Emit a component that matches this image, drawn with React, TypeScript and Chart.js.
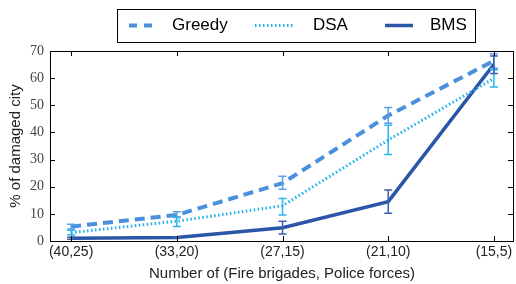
import React, { useEffect, useRef } from 'react';
import { Chart, registerables } from 'chart.js';
Chart.register(...registerables);

const categories = ['(40,25)', '(33,20)', '(27,15)', '(21,10)', '(15,5)'];
const seriesNames = ['Greedy', 'DSA', 'BMS'];
const greedy = [5.3, 9.6, 21.3, 46.2, 66.4];
const greedyLow = [4.4, 8.8, 19.1, 43.4, 63.6];
const greedyHigh = [6.2, 10.8, 23.9, 49.2, 69.0];
const dsa = [3.1, 7.3, 13.0, 37.2, 59.9];
const dsaLow = [2.2, 5.3, 9.6, 31.9, 56.7];
const dsaHigh = [4.0, 8.7, 15.7, 42.6, 63.1];
const bms = [1.0, 1.3, 4.9, 14.5, 65.1];
const bmsLow = [0.6, 1.0, 2.6, 10.2, 61.7];
const bmsHigh = [1.4, 1.6, 7.3, 18.8, 68.2];
const yTicks = [0, 10, 20, 30, 40, 50, 60, 70];

const colors = ['#4a90dc', '#1fb0ec', '#2a56a8'];
const errColors = ['#5c9fe2', '#2ab4ec', '#3a62ae'];
const dashes = [[10, 6], [1.5, 2.5], []];
const widths = [4, 3, 3.5];

const decorPlugin = {
  id: 'decor',
  afterDatasetsDraw(chart: any) {
    const ctx = chart.ctx;
    const xs = chart.scales.x;
    const ys = chart.scales.y;
    const lows = [greedyLow, dsaLow, bmsLow];
    const highs = [greedyHigh, dsaHigh, bmsHigh];
    ctx.save();
    lows.forEach((low, d) => {
      ctx.strokeStyle = errColors[d];
      ctx.lineWidth = 1.5;
      ctx.setLineDash([]);
      low.forEach((lo, i) => {
        const x = xs.getPixelForValue(i);
        const y1 = ys.getPixelForValue(lo);
        const y2 = ys.getPixelForValue(highs[d][i]);
        ctx.beginPath();
        ctx.moveTo(x, y1); ctx.lineTo(x, y2);
        ctx.moveTo(x - 4, y1); ctx.lineTo(x + 4, y1);
        ctx.moveTo(x - 4, y2); ctx.lineTo(x + 4, y2);
        ctx.stroke();
      });
    });
    ctx.restore();
  },
  afterDraw(chart: any) {
    const ctx = chart.ctx;
    const a = chart.chartArea;
    const xs = chart.scales.x;
    const ys = chart.scales.y;
    ctx.save();
    ctx.strokeStyle = '#000';
    ctx.lineWidth = 1;
    ctx.setLineDash([]);
    ctx.strokeRect(Math.round(a.left) + 0.5, Math.round(a.top) + 0.5, Math.round(a.right - a.left) - 1, Math.round(a.bottom - a.top));
    ctx.beginPath();
    categories.forEach((_, i) => {
      const x = Math.round(xs.getPixelForValue(i)) + 0.5;
      ctx.moveTo(x, a.bottom); ctx.lineTo(x, a.bottom - 5);
      ctx.moveTo(x, a.top); ctx.lineTo(x, a.top + 5);
    });
    yTicks.forEach((v) => {
      const y = Math.round(ys.getPixelForValue(v)) + 0.5;
      ctx.moveTo(a.left, y); ctx.lineTo(a.left + 5, y);
      ctx.moveTo(a.right - 1, y); ctx.lineTo(a.right - 6, y);
    });
    ctx.stroke();

    // legend
    ctx.strokeRect(117.5, 9.5, 358, 33);
    const ly = 25.5;
    const samples = [[129, 153, 172], [255, 293, 313], [385, 413, 430]];
    const legDash = [[8, 7], [1.5, 2.5], []];
    const legW = [4, 3, 3.5];
    samples.forEach((s, i) => {
      ctx.strokeStyle = colors[i];
      ctx.lineWidth = legW[i];
      ctx.setLineDash(legDash[i]);
      ctx.beginPath();
      ctx.moveTo(s[0], ly); ctx.lineTo(s[1], ly);
      ctx.stroke();
      ctx.setLineDash([]);
      ctx.fillStyle = '#000';
      ctx.font = '17px "Liberation Sans", Arial, sans-serif';
      ctx.textBaseline = 'middle';
      ctx.textAlign = 'left';
      ctx.fillText(seriesNames[i], s[2], ly);
    });
    ctx.restore();
  },
};

export default function App() {
  const ref = useRef<HTMLCanvasElement>(null);
  useEffect(() => {
    document.body.style.margin = '0';
    const series = [greedy, dsa, bms];
    const chart = new Chart(ref.current!, {
      type: 'line',
      data: {
        datasets: series.map((s, d) => ({
          label: seriesNames[d],
          data: s.map((v, i) => ({ x: i, y: v })),
          borderColor: colors[d],
          backgroundColor: colors[d],
          borderWidth: widths[d],
          borderDash: dashes[d],
          pointRadius: 0,
          tension: 0,
          fill: false,
        })),
      },
      options: {
        responsive: false,
        animation: false,
        devicePixelRatio: 1,
        layout: { padding: { top: 51, right: 2, left: 0, bottom: 0 } },
        plugins: { legend: { display: false }, tooltip: { enabled: false } },
        scales: {
          x: {
            type: 'linear',
            min: -0.2,
            max: 4.19,
            afterFit: (s: any) => { s.height = 43; },
            afterBuildTicks: (s: any) => { s.ticks = categories.map((_, i) => ({ value: i })); },
            grid: { display: false, drawTicks: false },
            border: { display: false },
            ticks: {
              padding: 3,
              color: '#222',
              font: { family: '"Liberation Sans", Arial, sans-serif', size: 14 },
              callback: (v: any) => categories[v] ?? '',
              maxRotation: 0,
              autoSkip: false,
            },
            title: {
              display: true,
              text: 'Number of (Fire brigades, Police forces)',
              color: '#222',
              font: { family: '"Liberation Sans", Arial, sans-serif', size: 15 },
              padding: { top: 0, bottom: 1 },
            },
          },
          y: {
            min: 0,
            max: 70,
            afterFit: (s: any) => { s.width = 50; },
            afterBuildTicks: (s: any) => { s.ticks = yTicks.map((v) => ({ value: v })); },
            grid: { display: false, drawTicks: false },
            border: { display: false },
            ticks: {
              padding: 6,
              color: '#444',
              font: { family: '"Liberation Serif", "Times New Roman", serif', size: 14 },
            },
            title: {
              display: true,
              text: '% of damaged city',
              color: '#222',
              font: { family: '"Liberation Sans", Arial, sans-serif', size: 15 },
              padding: { top: 7, bottom: 0 },
            },
          },
        },
      },
      plugins: [decorPlugin],
    });
    return () => chart.destroy();
  }, []);
  return (
    <div style={{ width: 516, height: 284 }}>
      <canvas ref={ref} width={516} height={284} style={{ display: 'block' }} />
    </div>
  );
}
